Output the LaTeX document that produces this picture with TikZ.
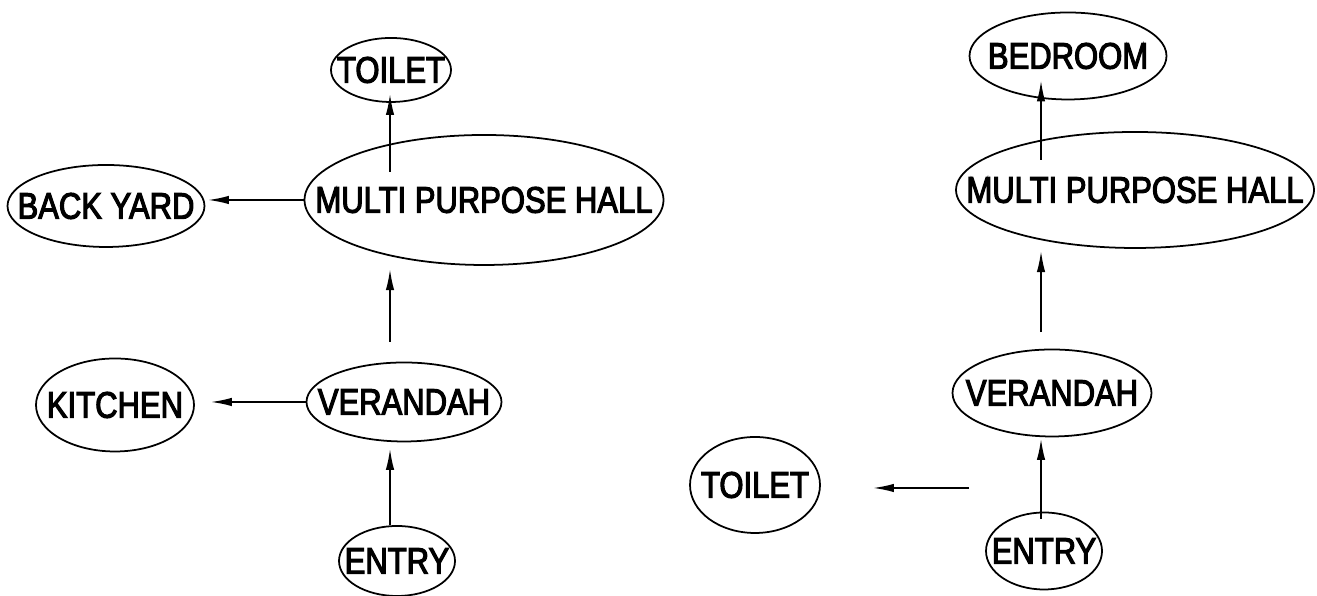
\documentclass[tikz,border=0pt]{standalone}
\usepackage{fontspec}
\setmainfont{Liberation Sans}[FakeStretch=0.84,FakeBold=3]
\usetikzlibrary{shapes.geometric,
                arrows.meta}

\begin{document}
\begin{tikzpicture}

%--------------------------------------------------
% STYLES
%--------------------------------------------------

\tikzset{
roomshape/.style={
draw=black,
ellipse,
line width=0.5pt,
inner sep=0pt
},
roomtext/.style={
font=\fontsize{10.5}{12}\selectfont,
inner sep=0pt
},
flowline/.style={
-{Latex[length=6pt,width=2.4pt]},
line width=0.5pt
}
}

\useasboundingbox (0,0) rectangle (13.17,5.96);

%--------------------------------------------------
% FIRST PLAN
%--------------------------------------------------

\node[roomshape,minimum width=1.20cm,minimum height=0.64cm,
label={[roomtext]center:TOILET}]
(toiletA) at (3.91,5.26) {};

\node[roomshape,minimum width=3.59cm,minimum height=1.30cm,
label={[roomtext]center:MULTI PURPOSE HALL}]
(hallA) at (4.84,3.96) {};

\node[roomshape,minimum width=1.97cm,minimum height=0.82cm,
label={[roomtext]center:BACK YARD}]
(backyard) at (1.06,3.90) {};

\node[roomshape,minimum width=1.58cm,minimum height=0.93cm,
label={[roomtext]center:KITCHEN}]
(kitchen) at (1.15,1.91) {};

\node[roomshape,minimum width=1.95cm,minimum height=0.79cm,
label={[roomtext]center:VERANDAH}]
(verandahA) at (4.04,1.94) {};

\node[roomshape,minimum width=1.16cm,minimum height=0.70cm,
label={[roomtext]center:ENTRY}]
(entryA) at (3.97,0.35) {};

\coordinate (axisA) at (3.90,0);

%--------------------------------------------------
% SECOND PLAN
%--------------------------------------------------

\node[roomshape,minimum width=1.97cm,minimum height=0.87cm,
label={[roomtext]center:BEDROOM}]
(bedroom) at (10.68,5.40) {};

\node[roomshape,minimum width=3.58cm,minimum height=1.16cm,
label={[roomtext]center:MULTI PURPOSE HALL}]
(hallB) at (11.35,4.06) {};

\node[roomshape,minimum width=1.99cm,minimum height=0.87cm,
label={[roomtext]center:VERANDAH}]
(verandahB) at (10.52,2.03) {};

\node[roomshape,minimum width=1.30cm,minimum height=0.96cm,
label={[roomtext]center:TOILET}]
(toiletB) at (7.55,1.11) {};

\node[roomshape,minimum width=1.16cm,minimum height=0.77cm,
label={[roomtext]center:ENTRY}]
(entryB) at (10.44,0.45) {};

\coordinate (axisB) at (10.41,0);
\coordinate (toiletgate) at (9.69,1.08);

%--------------------------------------------------
% ARROWS
%--------------------------------------------------

\draw[flowline]
([yshift=0.28cm]hallA.center -| axisA)--([yshift=0.09cm]toiletA.south -| axisA);

\draw[flowline,shorten >=0.7pt]
(hallA.west)--(hallA.west -| backyard.east);

\draw[flowline,shorten >=0.9pt]
([yshift=0.2cm]verandahA.north -| axisA)--(hallA.south -| axisA);

\draw[flowline,shorten >=4.5pt]
(verandahA.west)--(verandahA.west -| kitchen.east);

\draw[flowline,shorten >=1.8pt]
(entryA.north -| axisA)--(verandahA.south -| axisA);

\draw[flowline]
([yshift=0.30cm]hallB.center -| axisB)--([yshift=0.2cm]bedroom.south -| axisB);

\draw[flowline,shorten >=0.6pt]
([yshift=0.165cm]verandahB.north -| axisB)--(hallB.south -| axisB);

\draw[flowline,shorten >=0.4pt]
([yshift=-0.075cm]entryB.north -| axisB)--(verandahB.south -| axisB);

\draw[flowline,shorten >=0.52cm]
(toiletgate)--(toiletgate -| toiletB.east);

\end{tikzpicture}
\end{document}
